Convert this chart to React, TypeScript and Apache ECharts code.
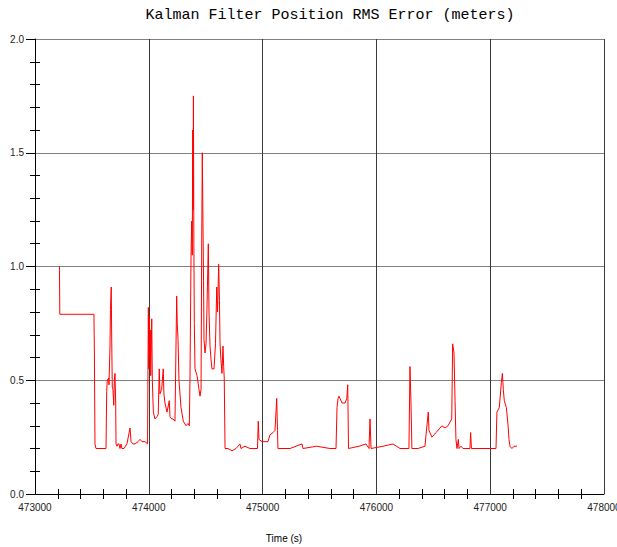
import React, { useEffect, useRef } from "react";
import * as echarts from "echarts";

const chartTitle = "Kalman Filter Position RMS Error (meters)";
const xAxisTitle = "Time (s)";

const timeS: number[] = [
  473215, 473218, 473220, 473518, 473522, 473527, 473536, 473571, 473598, 473624,
  473630, 473635, 473648, 473650, 473659, 473663, 473670, 473674, 473679, 473685,
  473692, 473697, 473703, 473709, 473712, 473721, 473729, 473738, 473747, 473756,
  473764, 473782, 473808, 473835, 473844, 473861, 473879, 473905, 473923, 473940,
  473967, 473989, 473996, 474000, 474004, 474008, 474013, 474017, 474026, 474031,
  474040, 474054, 474072, 474083, 474092, 474098, 474113, 474127, 474133, 474142,
  474160, 474180, 474186, 474201, 474213, 474230, 474245, 474250, 474257, 474265,
  474283, 474303, 474327, 474344, 474356, 474362, 474371, 474377, 474382, 474386,
  474389, 474392, 474396, 474400, 474406, 474424, 474441, 474450, 474459, 474465,
  474470, 474476, 474481, 474485, 474494, 474503, 474511, 474523, 474529, 474538,
  474547, 474555, 474573, 474586, 474597, 474604, 474614, 474621, 474626, 474634,
  474643, 474652, 474658, 474663, 474670, 474696, 474731, 474766, 474801, 474810,
  474845, 474889, 474924, 474955, 474962, 474968, 474995, 475021, 475047, 475065,
  475091, 475109, 475124, 475131, 475135, 475241, 475346, 475355, 475475, 475592,
  475645, 475654, 475663, 475671, 475698, 475724, 475740, 475748, 475755, 475847,
  475909, 475935, 475944, 475953, 476058, 476146, 476207, 476286, 476295, 476304,
  476312, 476365, 476427, 476436, 476456, 476462, 476488, 476524, 476559, 476576,
  476603, 476629, 476662, 476670, 476682, 476691, 476699, 476708, 476720, 476726,
  476743, 476761, 476787, 476822, 476828, 476835, 476910, 476998, 477051, 477059,
  477080, 477098, 477107, 477115, 477124, 477142, 477159, 477165, 477174, 477191,
  477209, 477235,
];

const rmsM: number[] = [
  1.0, 0.79, 0.79, 0.79, 0.62, 0.22, 0.2, 0.2, 0.2, 0.2,
  0.45, 0.5, 0.51, 0.48, 0.65, 0.81, 0.91, 0.69, 0.47, 0.46,
  0.39, 0.5, 0.53, 0.4, 0.22, 0.21, 0.22, 0.22, 0.2, 0.22,
  0.2, 0.2, 0.22, 0.29, 0.23, 0.22, 0.22, 0.23, 0.24, 0.23,
  0.23, 0.22, 0.82, 0.55, 0.78, 0.6, 0.72, 0.52, 0.77, 0.5,
  0.36, 0.33, 0.34, 0.35, 0.55, 0.44, 0.46, 0.55, 0.44, 0.4,
  0.36, 0.41, 0.34, 0.33, 0.33, 0.32, 0.87, 0.75, 0.68, 0.5,
  0.38, 0.32, 0.3, 0.31, 0.3, 0.51, 1.04, 1.2, 1.05, 1.6,
  1.25, 1.75, 1.1, 0.75, 0.55, 0.52, 0.46, 0.43, 0.46, 1.09,
  1.5, 1.19, 0.94, 0.68, 0.62, 0.66, 0.81, 1.1, 0.8, 0.65,
  0.59, 0.55, 0.55, 0.66, 0.91, 0.8, 1.01, 0.85, 0.66, 0.59,
  0.53, 0.65, 0.56, 0.51, 0.2, 0.2, 0.19, 0.2, 0.22, 0.2,
  0.21, 0.2, 0.2, 0.2, 0.32, 0.24, 0.23, 0.23, 0.23, 0.26,
  0.27, 0.28, 0.42, 0.28, 0.2, 0.2, 0.22, 0.2, 0.21, 0.2,
  0.2, 0.38, 0.42, 0.43, 0.4, 0.4, 0.42, 0.48, 0.2, 0.21,
  0.22, 0.2, 0.33, 0.2, 0.21, 0.22, 0.2, 0.2, 0.56, 0.4,
  0.2, 0.2, 0.21, 0.26, 0.36, 0.28, 0.25, 0.27, 0.29, 0.3,
  0.29, 0.3, 0.33, 0.66, 0.62, 0.41, 0.24, 0.2, 0.24, 0.2,
  0.21, 0.2, 0.2, 0.2, 0.27, 0.2, 0.2, 0.2, 0.2, 0.36,
  0.38, 0.49, 0.53, 0.46, 0.41, 0.38, 0.29, 0.24, 0.21, 0.2,
  0.21, 0.21,
];

const xMin = 473000;
const xMax = 478000;
const xStep = 1000;
const yMin = 0;
const yMax = 2.0;
const yStep = 0.5;

export default function App() {
  const ref = useRef<HTMLDivElement>(null);

  useEffect(() => {
    document.body.style.margin = "0";
    if (!ref.current) return;
    const chart = echarts.init(ref.current, undefined, { renderer: "svg" });
    const data = timeS.map((t, i) => [t, rmsM[i]]);
    const labelFont = "Liberation Sans, Arial, sans-serif";

    chart.setOption({
      animation: false,
      backgroundColor: "#ffffff",
      grid: {
        left: 35,
        right: 13,
        top: 39,
        bottom: 53,
        containLabel: false,
        outerBoundsMode: "none",
      },
      graphic: [
        {
          type: "text",
          x: 330,
          y: 15,
          style: {
            text: chartTitle,
            fontFamily: "Liberation Mono, Courier New, monospace",
            fontSize: 15,
            fill: "#000",
            textAlign: "center",
            textVerticalAlign: "middle",
          },
        },
        {
          type: "text",
          x: 284,
          y: 538,
          style: {
            text: xAxisTitle,
            fontFamily: labelFont,
            fontSize: 10,
            fill: "#000",
            textAlign: "center",
            textVerticalAlign: "middle",
          },
        },
      ],
      xAxis: [
        {
          type: "value",
          min: xMin,
          max: xMax,
          interval: xStep,
          axisLine: { show: true, lineStyle: { color: "#000", width: 1 } },
          axisTick: { show: false },
          minorTick: { show: true, splitNumber: 5, length: 5, lineStyle: { color: "#000", width: 1 } },
          axisLabel: {
            show: true,
            margin: 8,
            fontSize: 10,
            fontFamily: labelFont,
            color: "#222",
            showMaxLabel: true,
            showMinLabel: true,
            formatter: (v: number) => String(v),
          },
          splitLine: { show: true, lineStyle: { color: "#3a3a3a", width: 1 } },
        },
        {
          type: "value",
          position: "bottom",
          min: xMin,
          max: xMax,
          interval: xStep,
          axisLine: { show: false },
          axisTick: { show: false, inside: true },
          minorTick: { show: true, splitNumber: 5, length: 5, lineStyle: { color: "#000", width: 1 } },
          axisLabel: { show: false },
          splitLine: { show: false },
        },
      ],
      yAxis: [
        {
          type: "value",
          min: yMin,
          max: yMax,
          interval: yStep,
          axisLine: { show: true, lineStyle: { color: "#000", width: 1 } },
          axisTick: { show: true, length: 9, lineStyle: { color: "#000", width: 1 } },
          minorTick: { show: true, splitNumber: 5, length: 5, lineStyle: { color: "#000", width: 1 } },
          axisLabel: {
            show: true,
            margin: 11,
            fontSize: 10,
            fontFamily: labelFont,
            color: "#222",
            formatter: (v: number) => v.toFixed(1),
          },
          splitLine: { show: true, lineStyle: { color: "#808080", width: 1 } },
        },
        {
          type: "value",
          position: "left",
          min: yMin,
          max: yMax,
          interval: yStep,
          axisLine: { show: false },
          axisTick: { show: false, inside: true },
          minorTick: { show: true, splitNumber: 5, length: 5, lineStyle: { color: "#000", width: 1 } },
          axisLabel: { show: false },
          splitLine: { show: false },
        },
      ],
      series: [
        {
          type: "line",
          data,
          xAxisIndex: 0,
          yAxisIndex: 0,
          showSymbol: false,
          symbol: "none",
          lineStyle: { color: "#ff0000", width: 1 },
          itemStyle: { color: "#ff0000" },
          z: 5,
        },
      ],
    });

    return () => chart.dispose();
  }, []);

  return <div ref={ref} style={{ width: 617, height: 547 }} />;
}
